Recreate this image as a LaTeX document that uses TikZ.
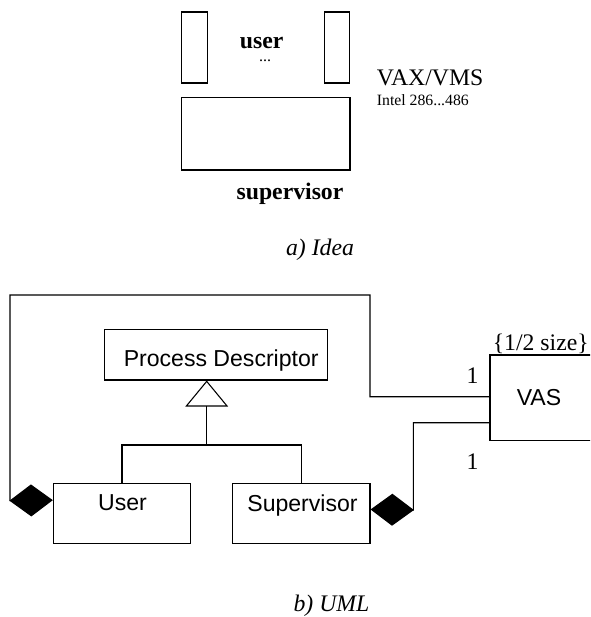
\documentclass[tikz,border=0pt]{standalone}
\usepackage{fontspec}
\setmainfont{Liberation Serif}
\setsansfont{Liberation Sans}
\usetikzlibrary{arrows.meta,calc}

\begin{document}
\begin{tikzpicture}[x=0.75pt,y=-0.75pt,
  frame/.style={draw, line width=0.8pt, inner sep=0pt},
  wire/.style={draw, line width=0.8pt},
  serif/.style={font=\fontsize{17.8}{20}\selectfont, inner sep=0pt, anchor=base},
  serifbold/.style={font=\bfseries\fontsize{17.8}{20}\selectfont, inner sep=0pt, anchor=base},
  serifit/.style={font=\itshape\fontsize{17.8}{20}\selectfont, inner sep=0pt, anchor=base},
  serifsmall/.style={font=\fontsize{11.8}{14}\selectfont, inner sep=0pt, anchor=base},
  sans/.style={font=\sffamily\fontsize{17.3}{20}\selectfont, inner sep=0pt, anchor=base},
  compose/.style={-{Diamond[length=32.5pt,width=24pt,fill=black]}},
  inherit/.style={-{Triangle[open,length=19.5pt,width=32pt,fill=white]}}]

\clip (0,0) rectangle (590,617);

% ---------- a) Idea ----------
\node[frame, minimum width=19.1pt, minimum height=53.25pt] (uL) at (194.35,47.5) {};
\node[frame, minimum width=19.1pt, minimum height=53.25pt] (uR) at (337,47.5) {};
\node[frame, minimum width=126.2pt, minimum height=54.2pt] (sup) at (265.85,133.85) {};

\node[serifbold] (userT) at (261.7,48.3) {user};
\node[font=\fontsize{12}{14}\selectfont, inner sep=0pt, anchor=base] (dots) at (265,61) {...};
\node[serifbold] (supT) at (290,199) {supervisor};
\node[serif, anchor=base west] (vax) at (376.7,85.7) {VAX/VMS};
\node[serifsmall, anchor=base west] (intel) at (376.7,105.7) {Intel 286...486};
\node[serifit] (capA) at (320,255) {a) Idea};

% ---------- b) UML ----------
\node[frame, minimum width=167.25pt, minimum height=38pt] (pd) at (215.8,354.65) {};
\node[frame, minimum width=103pt, minimum height=45pt] (usr) at (122,513.3) {};
\node[frame, minimum width=103pt, minimum height=45pt] (supv) at (301.35,513.3) {};
\node[frame, minimum width=82.5pt, minimum height=64.3pt] (vas) at (545,397.85) {};

\node[sans] (pdT) at (221.2,366) {Process Descriptor};
\node[sans] (usrT) at (122.5,510) {User};
\node[sans] (supvT) at (302.5,511) {Supervisor};
\node[sans] (vasT) at (539,405) {VAS};
\node[serif] (sizeT) at (540.8,350) {\{1/2 size\}};
\node[serif] (m1) at (472.5,383.3) {1};
\node[serif] (m2) at (472.5,469.3) {1};
\node[serifit] (capB) at (331.5,611.5) {b) UML};

% generalization
\coordinate (apex) at ($(pd.south)+(-9.1,0)$);
\coordinate (jn) at (apex |- 0,445);
\draw[wire] (usr.north) |- (jn) -| (supv.north);
\draw[wire, inherit] (jn) -- (apex);

% compositions with VAS
\coordinate (vasA) at ($(vas.north west)+(0,42.3)$);
\coordinate (vasB) at ($(vas.north west)+(0,68.3)$);
\coordinate (usrD) at ($(usr.north west)+(0,17.4)$);
\coordinate (supvD) at ($(supv.north east)+(0,26.7)$);
\coordinate (topR) at (370,295);
\coordinate (leftB) at (10,500.7);
\coordinate (rightB) at (413.3,510);
\draw[wire, compose] (vasA) -| (topR) -| (leftB) -- (usrD);
\draw[wire, compose] (vasB) -| (rightB) -- (supvD);
\end{tikzpicture}
\end{document}
